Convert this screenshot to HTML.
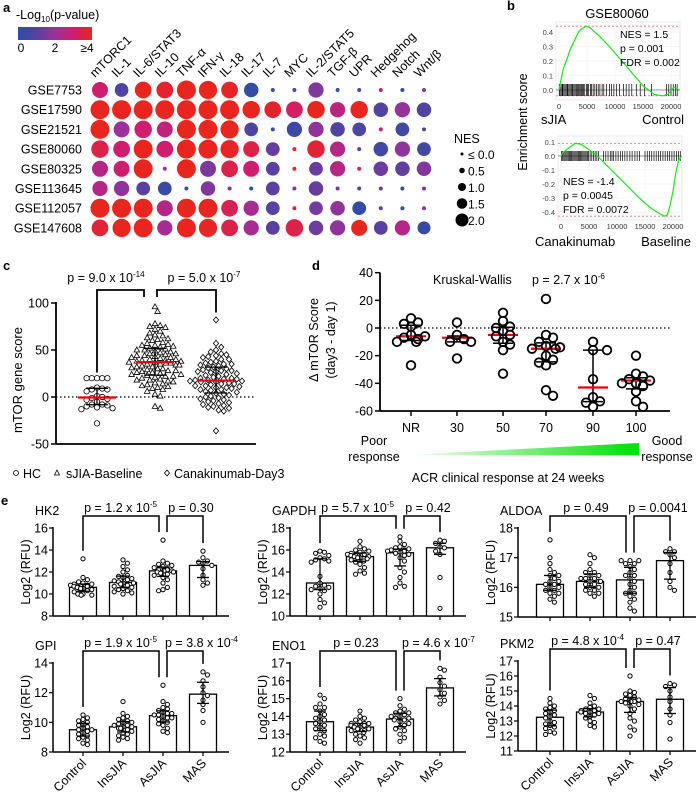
<!DOCTYPE html>
<html><head><meta charset="utf-8">
<style>
html,body{margin:0;padding:0;background:#fff;}
svg{display:block;font-family:"Liberation Sans",Arial,sans-serif;}
</style></head>
<body>
<svg id="fig" width="698" height="793" viewBox="0 0 698 793" xmlns="http://www.w3.org/2000/svg">
<defs>
<linearGradient id="pgrad" x1="0" x2="1" y1="0" y2="0">
<stop offset="0" stop-color="#2a4fa6"/><stop offset="0.25" stop-color="#5a40a0"/><stop offset="0.5" stop-color="#9b3199"/><stop offset="0.75" stop-color="#cf1d70"/><stop offset="1" stop-color="#e8261f"/>
</linearGradient>
<linearGradient id="ggrad" x1="0" x2="1" y1="0" y2="0">
<stop offset="0" stop-color="#ffffff"/><stop offset="1" stop-color="#00e000"/>
</linearGradient>
</defs>
<text x="3" y="12" font-size="13" font-weight="bold">a</text>
<text x="507" y="10" font-size="13" font-weight="bold">b</text>
<text x="3" y="270" font-size="13" font-weight="bold">c</text>
<text x="312" y="270" font-size="13" font-weight="bold">d</text>
<text x="1" y="505" font-size="13" font-weight="bold">e</text>
<text x="16" y="19" font-size="12.5">-Log<tspan font-size="8" dy="3">10</tspan><tspan dy="-3">(p-value)</tspan></text>
<rect x="18" y="27" width="74" height="13" fill="url(#pgrad)"/>
<text x="21" y="52" font-size="12" text-anchor="middle">0</text>
<text x="55" y="52" font-size="12" text-anchor="middle">2</text>
<text x="87" y="52" font-size="12" text-anchor="middle">≥4</text>
<polygon points="403,455 639,443 639,455" fill="url(#ggrad)"/>
<g id="root"></g>
</svg>
<script>
// ---------- Panel a data ----------
const aRows = ["GSE7753","GSE17590","GSE21521","GSE80060","GSE80325","GSE113645","GSE112057","GSE147608"];
const aCols = ["mTORC1","IL-1","IL-6/STAT3","IL-10","TNF-α","IFN-γ","IL-18","IL-17","IL-7","MYC","IL-2/STAT5","TGF-β","UPR","Hedgehog","Notch","Wnt/β"];
const aNES = [
 [1.6,1.3,1.7,1.7,2.0,1.9,1.7,1.4,0,0,1.5,0,0,0,0,0],
 [2.0,2.0,2.0,2.0,2.0,2.0,2.0,1.8,1.7,1.7,1.8,1.5,1.8,1.4,1.5,1.4],
 [2.0,1.6,1.8,1.6,2.0,2.0,1.9,1.3,0,1.5,1.5,1.4,1.3,0,1.3,0],
 [1.8,1.7,2.0,1.7,2.0,2.0,1.9,1.6,1.3,0,1.8,1.5,0,1.4,1.5,1.3],
 [1.6,1.6,2.0,0,2.0,1.6,1.7,1.6,1.3,0,1.3,1.5,0,1.4,1.4,1.4],
 [1.5,1.5,1.3,1.3,0,1.4,0,0,1.3,0,1.4,0,0,0,0,0],
 [2.0,2.0,2.0,1.6,2.0,2.0,1.7,1.5,1.3,0,1.3,1.4,1.3,0,0,0],
 [1.7,1.9,2.0,1.5,2.0,1.9,1.7,1.5,1.3,1.8,1.4,1.5,1.6,1.3,1.5,1.2]];
const aP = [
 [3.0,0.8,4,3.8,4,4,3.9,0.2,0.3,0.4,1.6,0.4,1.0,2.5,0.3,1.8],
 [4,4,4,4,4,4,4,4,3.8,3.2,4,2.6,4,0.8,1.9,0.8],
 [4,2.0,3.0,2.7,4,4,4,0.8,0.5,0.4,1.8,0.8,0.7,3.0,0.5,0.4],
 [3.5,3.0,4,3.0,4,4,3.9,3.5,1.2,4,3.7,2.5,1.2,0.5,1.8,0.5],
 [2.5,3.0,4,2.0,4,1.5,3.5,3.0,1.0,4,1.2,2.5,3.0,1.3,1.1,1.6],
 [2.5,1.8,1.0,0.4,0.5,1.6,1.5,0.3,1.0,1.6,1.2,1.5,0.6,1.2,0.4,1.4],
 [4,4,4,2.5,4,4,3.3,2.2,1.0,3.5,1.4,1.8,0.2,1.2,0.3,1.8],
 [3.7,4,4,2.2,4,3.9,3.5,2.2,1.0,3.5,1.3,1.8,4,1.0,2.5,0.3]];
const nesLegend = ["≤ 0.0","0.5","1.0","1.5","2.0"];
const nesLegendVals = [0,0.5,1.0,1.5,2.0];

// ---------- Panel b data ----------
const bTopRank = [0,300,800,1500,2000,2500,3000,3500,4000,4800,5500,7000,9000,11000,13000,15000,16000,17000,18500,19500,20500,21000,21500];
const bTopES   = [0,0.06,0.15,0.22,0.28,0.32,0.36,0.40,0.42,0.44,0.43,0.38,0.30,0.21,0.12,0.03,0.0,-0.03,-0.04,-0.03,0.02,0.01,0.0];
const bTopHits = [50,200,400,600,700,900,1100,1300,1500,1600,1800,2000,2200,2400,2500,2700,2900,3100,3300,3500,3700,3800,4000,4200,4400,4600,4900,5100,5300,5600,5800,6100,6400,6700,7000,7300,7700,8000,8500,9000,9400,9800,10300,10800,11500,12000,12500,13000,13800,14500,15300,16500,19200,19600,20000,20400,20800,21100];
const bBotRank = [0,500,1500,2500,3500,4500,5500,6500,8000,10000,12000,14000,16000,17500,18500,19000,19500,20000,20500,21000,21500];
const bBotES   = [0,0.03,0.06,0.09,0.085,0.06,0.03,0,-0.06,-0.14,-0.22,-0.30,-0.37,-0.41,-0.43,-0.42,-0.35,-0.25,-0.12,-0.03,0];
const bBotHits = [100,300,500,700,900,1100,1300,1500,1700,1900,2100,2300,2500,2700,2900,3100,3300,3500,3700,3900,4100,4300,4500,4700,4900,5200,5500,5800,6100,6400,6700,7600,8000,8400,8800,9100,9400,9800,10200,10600,11000,11400,11800,12300,12700,13200,13600,14000,15000,15400,15800,16200,16600,17000,17400,17800,18200,18600,19000,19400,19800,20200,20600,21000,21300];
const bXTicks = [0,5000,10000,15000,20000];
const bTopYTicks = [0.0,0.1,0.2,0.3,0.4];
const bBotYTicks = [0.1,0.0,-0.1,-0.2,-0.3,-0.4];

// ---------- Panel c data ----------
const cGroups = ["HC","sJIA-Baseline","Canakinumab-Day3"];
const cHC = [20,20,20,20,20,10,9,8,8,6,1,0,-1,-2,-3,-5,-8,-8,-9,-10,-11,-12,-13,-28];
const cSJIA = [96,91,78,76,75,74,72,70,68,66,65,63,62,61,60,58,57,56,55,55,54,53,52,51,50,50,49,48,47,46,46,45,44,44,43,42,42,41,40,40,39,39,38,38,37,37,36,36,35,35,34,34,33,32,32,31,30,30,29,28,28,27,26,26,25,24,24,23,22,22,21,20,19,18,18,17,16,15,14,13,12,11,10,9,8,6,3,1,-10,-12];
const cCana = [82,57,53,50,48,46,45,44,43,42,40,40,38,37,36,35,35,34,33,32,31,30,29,28,28,27,27,26,25,24,23,22,21,20,20,19,19,18,18,17,17,16,16,15,14,14,13,12,12,11,10,10,9,8,8,7,6,5,4,3,2,1,0,-1,-2,-3,-4,-5,-6,-7,-8,-9,-10,-11,-12,-14,-15,-36];
const cYTicks = [100,50,0,-50];
const cPvals = ["9.0 x 10","5.0 x 10"];
const cPexp = ["-14","-7"];

// ---------- Panel d data ----------
const dCats = ["NR","30","50","70","90","100"];
const dNR = [7,4,1,3,-5,-6,-7,-10,-10,-8,-27];
const d30 = [4,-5,-8,-10,-10,-22];
const d50 = [11,5,1,0,-2,-5,-6,-10,-12,-16,-33];
const d70 = [21,-5,-7,-10,-13,-14,-15,-15,-20,-23,-25,-27,-45,-49];
const d90 = [-10,-16,-16,-37,-50,-53,-54,-57];
const d100 = [-20,-35,-37,-33,-38,-40,-40,-42,-46,-53,-57];
const dMedians = [-6,-7,-5,-15,-43,-38];
const dYTicks = [40,20,0,-20,-40,-60];

// ---------- Panel e data ----------
const eGroups = ["Control","InsJIA","AsJIA","MAS"];
const eGenes = ["HK2","GAPDH","ALDOA","GPI","ENO1","PKM2"];
const eP1 = ["p = 1.2 x 10|-5","p = 5.7 x 10|-5","p = 0.49","p = 1.9 x 10|-5","p = 0.23","p = 4.8 x 10|-4"];
const eP2 = ["p = 0.30","p = 0.42","p = 0.0041","p = 3.8 x 10|-4","p = 4.6 x 10|-7","p = 0.47"];
const eRanges = [[8,16,2],[10,18,2],[15,18,1],[8,14,2],[12,17,1],[11,17,1]];
const eHK2 = [[13.2,11.5,11.3,11.1,11.0,10.9,10.9,10.8,10.7,10.7,10.6,10.5,10.5,10.4,10.3,10.2,10.1,10.0,10.0,9.9,9.9,10.6,10.8],
 [13.1,12.8,12.5,12.2,12.0,11.7,11.5,11.3,11.2,11.1,11.0,11.0,10.9,10.8,10.7,10.6,10.5,10.4,10.3,10.2,10.1,10.0,11.4,11.6],
 [14.9,13.0,12.8,12.7,12.5,12.4,12.3,12.2,12.2,12.1,12.1,12.0,12.0,11.9,11.8,11.7,11.5,11.3,11.0,10.6,10.4,10.3,12.6],
 [13.9,13.3,13.0,12.9,12.8,12.6,12.3,11.7,11.3,11.0,10.8]];
const eGAPDH = [[15.9,15.8,15.7,15.5,15.3,15.2,15.1,15.0,14.9,13.6,13.0,12.8,12.7,12.6,12.5,12.4,12.3,12.0,11.5,11.2,10.8],
 [16.8,16.3,16.1,16.0,15.9,15.8,15.7,15.6,15.5,15.5,15.4,15.4,15.3,15.2,15.1,15.0,14.9,14.7,14.4,14.1,13.9,13.8,15.6,15.3],
 [17.2,16.8,16.5,16.3,16.2,16.1,16.0,16.0,15.9,15.9,15.8,15.7,15.6,15.5,15.3,15.0,14.4,14.0,13.5,13.0,12.7,12.6],
 [16.9,16.8,16.6,16.3,16.2,15.9,15.6,13.5,10.7]];
const eALDOA = [[17.6,17.0,16.8,16.5,16.4,16.3,16.2,16.2,16.1,16.1,16.0,16.0,15.9,15.9,15.8,15.8,15.7,15.6,15.5,16.4,16.6],
 [17.1,17.0,16.8,16.6,16.5,16.4,16.4,16.3,16.3,16.3,16.2,16.2,16.1,16.1,16.0,16.0,15.9,15.9,15.8,15.8,15.7,16.5,16.2],
 [16.9,16.9,16.9,16.8,16.8,16.7,16.5,16.4,16.4,16.3,16.2,16.1,16.0,15.9,15.8,15.8,15.7,15.6,15.5,15.3,15.2,16.6],
 [17.3,17.2,17.2,17.1,17.0,16.8,16.5,16.2,16.0,15.9]];
const eGPI = [[10.5,10.3,10.2,10.0,9.9,9.8,9.7,9.6,9.5,9.4,9.3,9.2,9.1,9.0,8.9,8.8,8.6,8.5,9.5,10.1],
 [11.4,10.6,10.4,10.3,10.2,10.1,10.0,9.9,9.8,9.8,9.7,9.7,9.6,9.5,9.4,9.3,9.2,9.1,9.0,8.9,8.8,9.6,10.0],
 [12.5,11.4,11.2,11.0,10.9,10.8,10.7,10.6,10.5,10.4,10.3,10.3,10.2,10.1,10.0,9.9,9.8,9.6,9.4,9.3,10.5,10.6],
 [13.4,13.2,12.8,12.4,12.0,11.8,11.5,11.2,10.8,10.0]];
const eENO1 = [[15.2,15.0,14.7,14.5,14.3,14.1,14.0,13.9,13.8,13.7,13.6,13.5,13.4,13.3,13.2,13.0,12.9,12.8,12.6,12.5,14.5],
 [14.3,14.0,13.9,13.8,13.7,13.6,13.6,13.5,13.5,13.4,13.4,13.3,13.3,13.2,13.2,13.1,13.0,12.9,12.8,12.7,12.5,13.6,13.5],
 [15.0,14.6,14.4,14.3,14.2,14.1,14.0,14.0,13.9,13.9,13.8,13.7,13.6,13.5,13.4,13.3,13.2,13.0,12.8,12.6,14.2,13.8],
 [16.7,16.6,16.2,15.9,15.7,15.5,15.3,15.1,14.9,14.7]];
const ePKM2 = [[14.5,14.2,14.0,13.9,13.8,13.6,13.5,13.4,13.3,13.2,13.0,12.9,12.8,12.7,12.6,12.5,12.3,12.2,12.1,13.7],
 [14.7,14.5,14.2,14.0,13.9,13.8,13.7,13.7,13.6,13.6,13.5,13.5,13.4,13.3,13.2,13.0,12.9,12.7,12.6,13.8],
 [16.0,15.0,14.9,14.8,14.7,14.6,14.5,14.4,14.3,14.3,14.2,14.1,14.0,13.8,13.5,13.2,13.0,12.6,12.4,12.0,14.4,14.3],
 [15.5,15.4,15.3,15.0,14.6,14.3,13.8,13.4,12.9,11.8]];

// ---------- helpers ----------
const NS = "http://www.w3.org/2000/svg";
const root = document.getElementById('root');
function mk(tag, attrs, name, parent) {
  const e = document.createElementNS(NS, tag);
  for (const k in attrs) e.setAttribute(k, attrs[k]);
  
  
  (parent || root).appendChild(e);
  return e;
}
function txt(x, y, s, size, name, extra) {
  const a = Object.assign({x: x, y: y, 'font-size': size}, extra || {});
  const t = mk('text', a, name);
  t.textContent = s;
  return t;
}
function ptxt(x, y, s, size, name, anchor) {
  const parts = s.split('|');
  const t = mk('text', {x: x, y: y, 'font-size': size, 'text-anchor': anchor || 'middle'}, name);
  t.appendChild(document.createTextNode(parts[0]));
  if (parts[1]) {
    const ts = document.createElementNS(NS, 'tspan');
    ts.setAttribute('dy', '-5'); ts.setAttribute('font-size', size * 0.65);
    ts.textContent = parts[1];
    t.appendChild(ts);
  }
  return t;
}
function line(x1, y1, x2, y2, name, w, col, dash) {
  const a = {x1: x1, y1: y1, x2: x2, y2: y2, stroke: col || '#000', 'stroke-width': w || 1.5};
  if (dash) a['stroke-dasharray'] = dash;
  return mk('line', a, name);
}
function pcol(p) {
  const st = [[42,79,166],[90,64,160],[155,49,153],[207,29,112],[232,38,31]];
  const v = Math.max(0, Math.min(4, p));
  const i = Math.min(3, Math.floor(v)), f = v - i;
  const c = st[i].map((c0, k) => Math.round(c0 + (st[i+1][k] - c0) * f));
  return 'rgb(' + c.join(',') + ')';
}
function quant(arr, q) {
  const s = arr.slice().sort((a, b) => a - b);
  const pos = (s.length - 1) * q, lo = Math.floor(pos), hi = Math.ceil(pos);
  return s[lo] + (s[hi] - s[lo]) * (pos - lo);
}
function swarm(vals, cx, yf, r, step, maxW) {
  const placed = [];
  const sorted = vals.slice().sort((a, b) => b - a);
  const out = [];
  for (const v of sorted) {
    const y = yf(v);
    let best = null;
    for (let k = 0; k < 200; k++) {
      const off = (k === 0 ? 0 : (k % 2 ? 1 : -1) * Math.ceil(k / 2)) * step;
      if (Math.abs(off) > maxW) break;
      const x = cx + off;
      let ok = true;
      for (const p of placed) { if ((p[0]-x)**2 + (p[1]-y)**2 < (2*r)**2) { ok = false; break; } }
      if (ok) { best = x; break; }
    }
    if (best === null) best = cx + ((placed.length % 2) ? 1 : -1) * maxW * ((placed.length * 0.37) % 1);
    placed.push([best, y]); out.push([best, y, v]);
  }
  return out;
}

// ---------- Panel a ----------
const aX = i => 100 + i * 21.6;
const aY = j => 90 + j * 19.7;
const aR = n => 2 + Math.max(0, n) * 3.75;
aRows.forEach((r, j) => {
  txt(82, aY(j) + 4.5, r, 12.5, 'row-label-' + r.toLowerCase(), {'text-anchor': 'end'});
});
aCols.forEach((c, i) => {
  const x = aX(i) - 5, y = 78;
  txt(x, y, c, 12.5, 'column-label-' + i, {transform: 'rotate(-45 ' + x + ' ' + y + ')'});
});
aRows.forEach((r, j) => {
  aCols.forEach((c, i) => {
    mk('circle', {cx: aX(i), cy: aY(j), r: aR(aNES[j][i]), fill: pcol(aP[j][i])}, 'dot-' + r.toLowerCase() + '-' + i);
  });
});
txt(454, 143, 'NES', 12.5, 'nes-legend-title');
nesLegend.forEach((l, k) => {
  const y = 155 + k * 16.5;
  mk('circle', {cx: 462, cy: y - 1, r: 1.5 + nesLegendVals[k] * 2.5, fill: '#000'}, 'nes-legend-dot');
  txt(468, y + 4, l, 12, 'nes-legend-label');
});

// ---------- Panel b ----------
txt(617, 18, 'GSE80060', 13, 'gsea-title', {'text-anchor': 'middle'});
function gsea(ranks, es, hits, x0, x1px, yZero, pxPerUnit, top, bottom, yTicks, dashHi, dashLo, hitY0, hitY1, tag) {
  const xs = r => x0 + (x1px - x0) * r / 20000;
  const ys = v => yZero - v * pxPerUnit;
  mk('rect', {x: x0 - 3, y: top, width: 124, height: bottom - top, fill: '#fff', stroke: '#e4e4e4', 'stroke-width': 0.8}, tag + '-frame');
  yTicks.forEach(t => {
    line(x0 - 3, ys(t), x0 + 121, ys(t), tag + '-gridline', 0.5, '#ececec');
    txt(x0 - 6, ys(t) + 3, t.toFixed(1), 7.5, tag + '-y-tick', {'text-anchor': 'end', fill: '#444'});
  });
  bXTicks.forEach(t => {
    line(xs(t), top, xs(t), bottom, tag + '-vgrid', 0.5, '#ececec');
    txt(xs(t), bottom + 9, String(t), 7.5, tag + '-x-tick', {'text-anchor': 'middle', fill: '#333'});
  });
  line(x0 - 3, ys(dashHi), x0 + 121, ys(dashHi), tag + '-max-line', 0.8, '#f07070', '2,2');
  line(x0 - 3, ys(dashLo), x0 + 121, ys(dashLo), tag + '-min-line', 0.8, '#f07070', '2,2');
  line(x0 - 3, ys(0), x0 + 121, ys(0), tag + '-zero-line', 0.8, '#777');
  hits.forEach(h => line(xs(h), hitY0, xs(h), hitY1, tag + '-hit', 0.7, '#000'));
  const pts = ranks.map((r, k) => xs(r).toFixed(1) + ',' + ys(es[k]).toFixed(1)).join(' ');
  mk('polyline', {points: pts, fill: 'none', stroke: '#22dd22', 'stroke-width': 1.2}, tag + '-es-curve');
}
gsea(bTopRank, bTopES, bTopHits, 559, 671, 90, 145, 22, 100, bTopYTicks, 0.44, -0.04, 84, 96, 'gsea-top');
gsea(bBotRank, bBotES, bBotHits, 561, 673, 156, 140, 136, 220, bBotYTicks, 0.09, -0.43, 151, 161, 'gsea-bottom');
txt(620, 38, 'NES = 1.5', 10.5, 'gsea-top-nes');
txt(620, 52, 'p = 0.001', 10.5, 'gsea-top-p');
txt(620, 66, 'FDR = 0.002', 10.5, 'gsea-top-fdr');
txt(563, 185, 'NES = -1.4', 10.5, 'gsea-bottom-nes');
txt(563, 199, 'p = 0.0045', 10.5, 'gsea-bottom-p');
txt(563, 213, 'FDR = 0.0072', 10.5, 'gsea-bottom-fdr');
txt(541, 124, 'sJIA', 13, 'gsea-top-left-label');
txt(684, 124, 'Control', 13, 'gsea-top-right-label', {'text-anchor': 'end'});
txt(535, 246, 'Canakinumab', 13, 'gsea-bottom-left-label');
txt(691, 246, 'Baseline', 13, 'gsea-bottom-right-label', {'text-anchor': 'end'});
txt(527, 122, 'Enrichment score', 12.5, 'gsea-y-title', {'text-anchor': 'middle', transform: 'rotate(-90 527 122)'});

// ---------- Panel c ----------
const cY = v => 397 - v * 0.94;
const cCX = [97, 155, 216];
line(56, cY(100) - 1, 56, cY(-50), 'c-y-axis', 1.8);
line(56, cY(-50), 256, cY(-50), 'c-x-axis', 1.8);
cYTicks.forEach(t => {
  line(51, cY(t), 56, cY(t), 'c-y-tick', 1.5);
  txt(49, cY(t) + 4.5, String(t), 12.5, 'c-y-tick-label', {'text-anchor': 'end'});
});
line(56, cY(0), 256, cY(0), 'c-zero-line', 1.2, '#000', '1.5,2.5');
txt(22, 380, 'mTOR gene score', 13, 'c-y-title', {'text-anchor': 'middle', transform: 'rotate(-90 22 380)'});
const cData = [cHC, cSJIA, cCana];
cData.forEach((vals, g) => {
  const pts = swarm(vals, cCX[g], cY, 2.6, 2.6, 28);
  pts.forEach(p => {
    if (g === 0) mk('circle', {cx: p[0], cy: p[1], r: 2.7, fill: '#fff', stroke: '#000', 'stroke-width': 0.8}, 'c-point-hc');
    else if (g === 1) mk('polygon', {points: `${p[0]},${p[1]-3} ${p[0]-2.8},${p[1]+2} ${p[0]+2.8},${p[1]+2}`, fill: '#fff', stroke: '#000', 'stroke-width': 0.8}, 'c-point-sjia');
    else mk('polygon', {points: `${p[0]},${p[1]-3} ${p[0]+2.6},${p[1]} ${p[0]},${p[1]+3} ${p[0]-2.6},${p[1]}`, fill: '#fff', stroke: '#000', 'stroke-width': 0.8}, 'c-point-cana');
  });
  const q1 = quant(vals, 0.25), q3 = quant(vals, 0.75), md = quant(vals, 0.5);
  line(cCX[g], cY(q3), cCX[g], cY(q1), 'c-error-bar', 1.3);
  line(cCX[g] - 11, cY(q3), cCX[g] + 11, cY(q3), 'c-error-cap', 1.3);
  line(cCX[g] - 11, cY(q1), cCX[g] + 11, cY(q1), 'c-error-cap', 1.3);
  line(cCX[g] - 19, cY(md), cCX[g] + 19, cY(md), 'c-median-line', 2.2, '#e8000a');
});
mk('polyline', {points: `97,${cY(26)} 97,290 144,290 144,297`, fill: 'none', stroke: '#000', 'stroke-width': 1.8}, 'c-bracket-1');
mk('polyline', {points: `157,297 157,290 216,290 216,${cY(90)}`, fill: 'none', stroke: '#000', 'stroke-width': 1.8}, 'c-bracket-2');
ptxt(106, 282, 'p = ' + cPvals[0] + '|' + cPexp[0], 12.5, 'c-pvalue-1');
ptxt(204, 282, 'p = ' + cPvals[1] + '|' + cPexp[1], 12.5, 'c-pvalue-2');
mk('circle', {cx: 16, cy: 473, r: 2.5, fill: '#fff', stroke: '#000', 'stroke-width': 0.8}, 'c-legend-hc-marker');
txt(23, 478, 'HC', 12.5, 'c-legend-hc');
mk('polygon', {points: '57,470 54.5,475 59.5,475', fill: '#fff', stroke: '#000', 'stroke-width': 0.8}, 'c-legend-sjia-marker');
txt(66, 478, cGroups[1], 12.5, 'c-legend-sjia');
mk('polygon', {points: '167,470 169.5,473 167,476 164.5,473', fill: '#fff', stroke: '#000', 'stroke-width': 0.8}, 'c-legend-cana-marker');
txt(174, 478, cGroups[2], 12.5, 'c-legend-cana');

// ---------- Panel d ----------
const dY = v => 328 - v * 1.383;
const dCX = [411, 457, 503, 546, 593, 636];
line(380, dY(40), 380, dY(-60), 'd-y-axis', 1.8);
line(380, dY(-60), 670, dY(-60), 'd-x-axis', 1.8);
dYTicks.forEach(t => {
  line(375, dY(t), 380, dY(t), 'd-y-tick', 1.5);
  txt(373, dY(t) + 4.5, String(t), 12.5, 'd-y-tick-label', {'text-anchor': 'end'});
});
line(380, dY(0), 670, dY(0), 'd-zero-line', 1.2, '#000', '1.5,2.5');
const dData = [dNR, d30, d50, d70, d90, d100];
dCats.forEach((c, g) => {
  line(dCX[g], dY(-60), dCX[g], dY(-60) + 5, 'd-x-tick', 1.5);
  txt(dCX[g], 432, c, 12.5, 'd-x-tick-label', {'text-anchor': 'middle'});
  const vals = dData[g];
  const q1 = quant(vals, 0.25), q3 = quant(vals, 0.75);
  line(dCX[g], dY(q3), dCX[g], dY(q1), 'd-error-bar', 1.5);
  line(dCX[g] - 10, dY(q3), dCX[g] + 10, dY(q3), 'd-error-cap', 1.5);
  line(dCX[g] - 10, dY(q1), dCX[g] + 10, dY(q1), 'd-error-cap', 1.5);
  line(dCX[g] - 15, dY(dMedians[g]), dCX[g] + 15, dY(dMedians[g]), 'd-median-line', 2.2, '#e8000a');
  swarm(vals, dCX[g], dY, 3.6, 7, 16).forEach(p => {
    mk('circle', {cx: p[0], cy: p[1], r: 4.3, fill: 'none', stroke: '#000', 'stroke-width': 1.8}, 'd-point-' + c);
  });
});
txt(433, 284, 'Kruskal-Wallis', 12.5, 'd-test-name');
ptxt(532, 284, 'p = 2.7 x 10|-6', 12.5, 'd-pvalue', 'start');
txt(318, 340, 'Δ mTOR Score', 12.5, 'd-y-title-1', {'text-anchor': 'middle', transform: 'rotate(-90 318 340)'});
txt(335, 340, '(day3 - day 1)', 12.5, 'd-y-title-2', {'text-anchor': 'middle', transform: 'rotate(-90 335 340)'});
txt(374, 445, 'Poor', 12.5, 'd-poor-label', {'text-anchor': 'middle'});
txt(374, 461, 'response', 12.5, 'd-poor-label-2', {'text-anchor': 'middle'});
txt(667, 445, 'Good', 12.5, 'd-good-label', {'text-anchor': 'middle'});
txt(667, 461, 'response', 12.5, 'd-good-label-2', {'text-anchor': 'middle'});
txt(508, 482, 'ACR clinical response at 24 weeks', 12.5, 'd-x-title', {'text-anchor': 'middle'});

// ---------- Panel e ----------
const eAll = [eHK2, eGAPDH, eALDOA, eGPI, eENO1, ePKM2];
const eAxisX = [53, 290, 518, 53, 290, 518];
const eTopY = [528, 528, 528, 663, 663, 661];
const eBotY = [616, 616, 617, 752, 752, 751];
const eOff = [30, 70, 110, 150];
eGenes.forEach((gname, gi) => {
  const [lo, hi, step] = eRanges[gi];
  const ax = eAxisX[gi], yT = eTopY[gi], yB = eBotY[gi];
  const ys = v => yB - (v - lo) * (yB - yT) / (hi - lo);
  const cx = k => ax + eOff[k] + (gi % 3 === 2 ? 2 : 0);
  line(ax, yT - 1, ax, yB, 'e-' + gname + '-y-axis', 1.5);
  line(ax, yB, cx(3) + 26, yB, 'e-' + gname + '-x-axis', 1.5);
  for (let t = lo; t <= hi + 1e-9; t += step) {
    line(ax - 4, ys(t), ax, ys(t), 'e-' + gname + '-y-tick', 1.2);
    txt(ax - 5, ys(t) + 4.5, String(t), 12.5, 'e-' + gname + '-y-tick-label', {'text-anchor': 'end'});
  }
  const yc = (yT + yB) / 2;
  txt(ax - 23, yc, 'Log2 (RFU)', 12.5, 'e-' + gname + '-y-title', {'text-anchor': 'middle', transform: `rotate(-90 ${ax - 23} ${yc})`});
  txt(ax - 18, yT - 13, gname, 12.5, 'e-' + gname + '-title');
  eAll[gi].forEach((vals, k) => {
    const md = quant(vals, 0.5), q1 = quant(vals, 0.25), q3 = quant(vals, 0.75);
    mk('rect', {x: cx(k) - 13.5, y: ys(md), width: 27, height: yB - ys(md), fill: '#fff', stroke: '#000', 'stroke-width': 1.3}, 'e-' + gname + '-bar-' + eGroups[k]);
    swarm(vals, cx(k), ys, 2.2, 4.4, 13).forEach(p => {
      mk('circle', {cx: p[0], cy: p[1], r: 2.1, fill: '#fff', stroke: '#000', 'stroke-width': 1}, 'e-' + gname + '-point');
    });
    line(cx(k), ys(q3), cx(k), ys(q1), 'e-' + gname + '-error-bar', 1.3);
    line(cx(k) - 6, ys(q3), cx(k) + 6, ys(q3), 'e-' + gname + '-error-cap', 1.3);
    line(cx(k) - 6, ys(q1), cx(k) + 6, ys(q1), 'e-' + gname + '-error-cap', 1.3);
    line(cx(k), yB, cx(k), yB + 4, 'e-' + gname + '-x-tick', 1.2);
    if (gi >= 3) {
      const lx = cx(k) + 4, ly = yB + 12;
      txt(lx, ly, eGroups[k], 12.5, 'e-' + gname + '-x-label', {'text-anchor': 'end', transform: `rotate(-45 ${lx} ${ly})`});
    }
  });
  const bTop = yT - 12;
  const m0 = Math.max(...eAll[gi][0]), m2 = Math.max(...eAll[gi][2]), m3 = Math.max(...eAll[gi][3]);
  mk('polyline', {points: `${cx(0)},${ys(m0) - 8} ${cx(0)},${bTop} ${cx(2) - 4},${bTop} ${cx(2) - 4},${ys(m2) - 8}`, fill: 'none', stroke: '#000', 'stroke-width': 1.5}, 'e-' + gname + '-bracket-1');
  mk('polyline', {points: `${cx(2) + 4},${ys(m2) - 8} ${cx(2) + 4},${bTop} ${cx(3)},${bTop} ${cx(3)},${ys(m3) - 8}`, fill: 'none', stroke: '#000', 'stroke-width': 1.5}, 'e-' + gname + '-bracket-2');
  const long1 = eP1[gi].indexOf('|') >= 0, long2 = eP2[gi].indexOf('|') >= 0;
  if (long1) ptxt(cx(2) - 6, bTop - 4, eP1[gi], 12.5, 'e-' + gname + '-pvalue-1', 'end');
  else ptxt((cx(0) + cx(2)) / 2 - 4, bTop - 4, eP1[gi], 12.5, 'e-' + gname + '-pvalue-1');
  if (long2) ptxt(cx(2) + 2, bTop - 4, eP2[gi], 12.5, 'e-' + gname + '-pvalue-2', 'start');
  else ptxt((cx(2) + cx(3)) / 2 + 8, bTop - 4, eP2[gi], 12.5, 'e-' + gname + '-pvalue-2');
});
</script>
</body></html>
